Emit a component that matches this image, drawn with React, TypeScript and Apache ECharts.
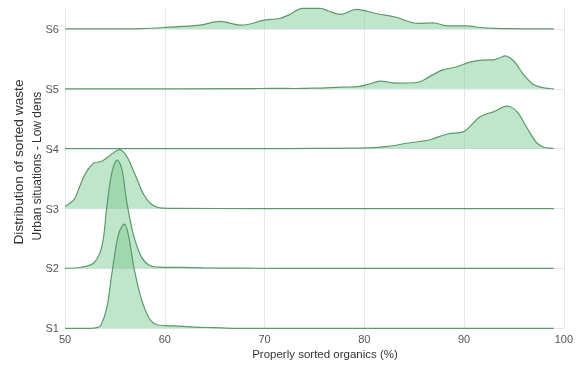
import React, { useEffect, useRef } from "react";
import * as echarts from "echarts";

// Ridge labels, bottom to top
const categories = ["S1", "S2", "S3", "S4", "S5", "S6"];

// X tick values (properly sorted organics, %)
const xTicks = [50, 60, 70, 80, 90, 100];

// Density curves: x positions and heights (in ridge-spacing units)
const s1X = [50, 52.5, 53.2, 53.6, 54.2, 54.6, 54.9, 55.4, 55.96, 56.4, 56.9, 57.6, 58.4, 59.2, 60.2, 61.5, 63, 65, 67, 80, 99];
const s1Y = [0, 0, 0.01, 0.05, 0.35, 0.8, 1.14, 1.59, 1.74, 1.52, 1.02, 0.52, 0.18, 0.06, 0.045, 0.035, 0.02, 0.01, 0, 0, 0];

const s2X = [50, 51.6, 52.9, 53.7, 54.2, 54.7, 55.24, 55.7, 56.2, 56.9, 57.7, 58.5, 59.5, 61.5, 64, 68, 75, 99];
const s2Y = [0, 0.02, 0.095, 0.37, 1.04, 1.6, 1.81, 1.66, 1.1, 0.54, 0.18, 0.05, 0.022, 0.017, 0.01, 0.004, 0, 0];

const s3X = [50, 50.9, 51.5, 52.1, 52.9, 53.7, 54.6, 55.5, 55.9, 56.3, 57.1, 57.9, 58.7, 59.5, 61, 70, 99];
const s3Y = [0.04, 0.15, 0.38, 0.6, 0.76, 0.79, 0.9, 0.985, 0.94, 0.84, 0.54, 0.23, 0.067, 0.012, 0.004, 0, 0];

const s4X = [50, 70, 75, 80.4, 82.4, 84.4, 85.6, 86.6, 88.4, 89.9, 91.6, 93.0, 94.3, 95.3, 96.3, 97.3, 98.0, 98.6, 99];
const s4Y = [0, 0, 0.005, 0.012, 0.038, 0.095, 0.12, 0.15, 0.25, 0.28, 0.535, 0.62, 0.71, 0.62, 0.35, 0.095, 0.025, 0.008, 0.003];

const s5X = [50, 68, 70.8, 73, 75, 77.7, 79.4, 80.5, 81.6, 82.5, 83.4, 85.4, 86.5, 87.9, 89.1, 90.7, 92, 93.0, 93.6, 94.1, 95.0, 96.0, 97.0, 98, 98.6, 99];
const s5Y = [0, 0.002, 0.008, 0.005, 0.01, 0.028, 0.038, 0.08, 0.13, 0.11, 0.095, 0.11, 0.2, 0.32, 0.36, 0.45, 0.48, 0.485, 0.52, 0.55, 0.46, 0.23, 0.067, 0.015, 0.005, 0];

const s6X = [50, 55, 57.6, 60, 63.5, 65.5, 67.7, 70, 71.5, 72.5, 73.8, 75.6, 76.4, 77.6, 79.2, 81.4, 83.1, 85.4, 86.9, 88.4, 90.1, 92, 94, 99];
const s6Y = [0, 0, 0.005, 0.025, 0.064, 0.125, 0.064, 0.147, 0.175, 0.24, 0.343, 0.343, 0.3, 0.242, 0.326, 0.25, 0.2, 0.092, 0.1, 0.05, 0.05, 0.017, 0.005, 0];

const ridges = [
  { x: s1X, y: s1Y },
  { x: s2X, y: s2Y },
  { x: s3X, y: s3Y },
  { x: s4X, y: s4Y },
  { x: s5X, y: s5Y },
  { x: s6X, y: s6Y },
];

const LINE = "#5b9b69";
const FILL = "rgba(128, 204, 150, 0.5)";
const GRID = "#e8e8e8";
const FONT = "Liberation Sans, Arial, sans-serif";

export default function App() {
  const ref = useRef<HTMLDivElement>(null);

  useEffect(() => {
    if (!ref.current) return;
    const chart = echarts.init(ref.current, null, { renderer: "svg" });

    // Top ridge first so lower ridges overlap it
    const series = ridges
      .map((r, i) => ({
        name: categories[i],
        type: "line",
        smooth: 0.35,
        showSymbol: false,
        clip: false,
        lineStyle: { color: LINE, width: 1.2 },
        areaStyle: { color: FILL, opacity: 1, origin: i },
        data: r.x.map((x, k) => [x, i + r.y[k]]),
      }))
      .reverse();

    chart.setOption({
      animation: false,
      grid: { left: 65, right: 9.5, top: 8, bottom: 38.7 },
      xAxis: {
        type: "value",
        min: xTicks[0],
        max: xTicks[xTicks.length - 1],
        interval: 10,
        axisLine: { show: false },
        axisTick: { show: false },
        axisLabel: { color: "#555", fontSize: 11, margin: 5, fontFamily: FONT },
        splitLine: { show: true, lineStyle: { color: GRID, width: 1 } },
      },
      yAxis: {
        type: "value",
        min: 0,
        max: 5.35,
        interval: 1,
        axisLine: { show: false },
        axisTick: { show: false },
        axisLabel: {
          color: "#555",
          fontSize: 11,
          margin: 6,
          showMaxLabel: false,
          fontFamily: FONT,
          formatter: (v: number) => (Number.isInteger(v) ? categories[v] ?? "" : ""),
        },
        splitLine: { show: true, showMaxLine: false, lineStyle: { color: GRID, width: 1 } },
      },
      graphic: [
        {
          type: "text",
          x: 18,
          y: 162,
          rotation: Math.PI / 2,
          style: {
            text: "Distribution of sorted waste",
            fill: "#333",
            fontSize: 13.7,
            fontFamily: FONT,
            align: "center",
            verticalAlign: "middle",
          },
        },
        {
          type: "text",
          x: 37,
          y: 166,
          rotation: Math.PI / 2,
          style: {
            text: "Urban situations - Low dens",
            fill: "#333",
            fontSize: 12,
            fontFamily: FONT,
            align: "center",
            verticalAlign: "middle",
          },
        },
        {
          type: "text",
          x: 325,
          y: 354,
          style: {
            text: "Properly sorted organics (%)",
            fill: "#333",
            fontSize: 11.5,
            fontFamily: FONT,
            align: "center",
            verticalAlign: "middle",
          },
        },
      ],
      series,
    });

    return () => chart.dispose();
  }, []);

  return (
    <div
      ref={ref}
      style={{ position: "fixed", left: 0, top: 0, width: 576, height: 367 }}
    />
  );
}
